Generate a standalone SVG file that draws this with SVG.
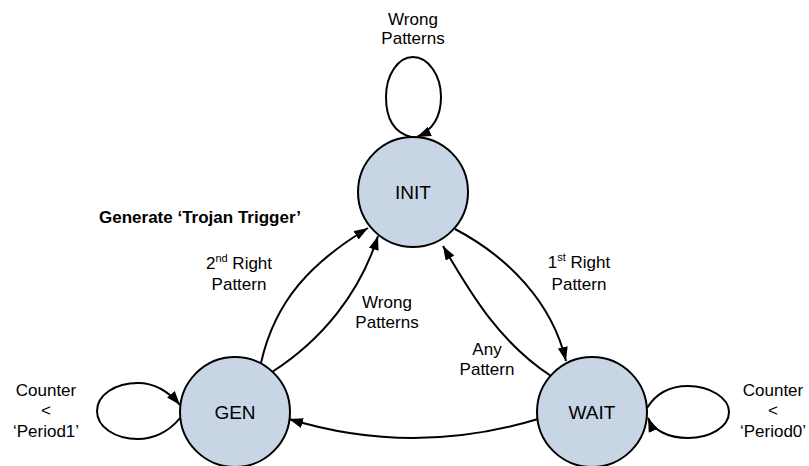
<svg xmlns="http://www.w3.org/2000/svg" width="809" height="466" viewBox="0 0 809 466">
<defs>
<style>
.st{fill:#c8d5e5;stroke:#000;stroke-width:2}
.e{fill:none;stroke:#000;stroke-width:2}
.t{font-family:"Liberation Sans",Arial,sans-serif;font-size:17px;fill:#000;text-anchor:middle}
.n{font-family:"Liberation Sans",Arial,sans-serif;font-size:19px;fill:#000;text-anchor:middle}
.b{font-family:"Liberation Sans",Arial,sans-serif;font-size:17px;font-weight:bold;fill:#000}
.sup{font-size:11px}
</style>
<marker id="ah" viewBox="0 0 14 10" refX="14" refY="5" markerWidth="14" markerHeight="10" markerUnits="userSpaceOnUse" orient="auto">
<path d="M0,0 L14,5 L0,10 Z" fill="#000"/>
</marker>
</defs>
<rect width="809" height="466" fill="#fff"/>
<g id="connectors">
<path class="e" d="M411,137 C392,132 386,116 386,97 C386,75 398,57 413,57 C428,57 441,75 441,97 C441,116 433,130 417,137" marker-end="url(#ah)"/>
<path class="e" d="M180,418 C168,433 152,439 138,439 C115,439 97,427 97,411 C97,395 115,383 138,383 C155,383 169,392 180,405" marker-end="url(#ah)"/>
<path class="e" d="M647,408 C655,395 668,386 688,386 C710,386 729,398 729,412 C729,427 710,438 688,438 C668,438 653,430 648,418" marker-end="url(#ah)"/>
<path class="e" d="M455,229 C508,257 552,302 566,361" marker-end="url(#ah)"/>
<path class="e" d="M551,376 C501,343 473,298 443,246" marker-end="url(#ah)"/>
<path class="e" d="M538,419 Q413,457 289,419" marker-end="url(#ah)"/>
<path class="e" d="M261,363 C275,300 312,262 368,228" marker-end="url(#ah)"/>
<path class="e" d="M272,372 C322,340 360,293 378,236" marker-end="url(#ah)"/>
</g>
<g id="INIT"><circle class="st" cx="413" cy="192" r="55"/><text class="n" x="413" y="199">INIT</text></g>
<g id="GEN"><circle class="st" cx="235" cy="412" r="55"/><text class="n" x="235" y="419">GEN</text></g>
<g id="WAIT"><circle class="st" cx="592" cy="412" r="55"/><text class="n" x="592" y="419">WAIT</text></g>
<g id="labels">
<text class="t" x="413" y="25">Wrong</text>
<text class="t" x="413" y="44">Patterns</text>
<text class="b" x="99" y="223">Generate ‘Trojan Trigger’</text>
<text class="t" x="239" y="269">2<tspan class="sup" dy="-7">nd</tspan><tspan dy="7"> Right</tspan></text>
<text class="t" x="239" y="290">Pattern</text>
<text class="t" x="387" y="308">Wrong</text>
<text class="t" x="387" y="328">Patterns</text>
<text class="t" x="579" y="268">1<tspan class="sup" dy="-7">st</tspan><tspan dy="7"> Right</tspan></text>
<text class="t" x="579" y="290">Pattern</text>
<text class="t" x="487" y="355">Any</text>
<text class="t" x="487" y="375">Pattern</text>
<text class="t" x="46" y="396">Counter</text>
<text class="t" x="46" y="416">&lt;</text>
<text class="t" x="46" y="437">‘Period1’</text>
<text class="t" x="773" y="396">Counter</text>
<text class="t" x="773" y="416">&lt;</text>
<text class="t" x="773" y="437">‘Period0’</text>
</g>
</svg>
